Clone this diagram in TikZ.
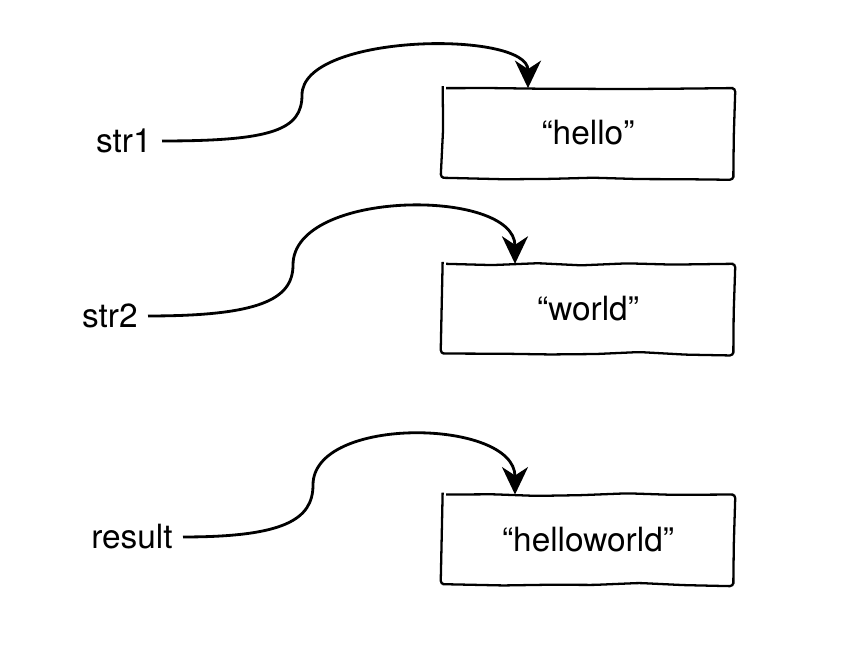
\documentclass[tikz,border=0pt]{standalone}
\usepackage{fontspec}
\setmainfont{TeX Gyre Heros}
\usetikzlibrary{
  arrows.meta,
  positioning,
  decorations.pathmorphing
}
\pgfmathsetseed{11}

\begin{document}
\begin{tikzpicture}[
  valbox/.style={minimum width=5.8cm,minimum height=1.78cm,
                 inner sep=0pt,font=\fontsize{19}{22}\selectfont},
  sketch/.style={line width=1.3pt,decorate,rounded corners=2pt,
                 decoration={random steps,segment length=0.9cm,amplitude=1pt}},
  var/.style={anchor=east,inner xsep=0.2cm,inner ysep=0pt,font=\fontsize{19}{22}\selectfont},
  ref/.style={-{Stealth[length=0.55cm,width=0.52cm,inset=0.17cm]},line width=1.6pt},
]
\useasboundingbox (0,0) rectangle (17.28,13);

\node[valbox] at (11.76,10.34)          (hello) {“hello”};
\node[valbox, below=1.72cm of hello]    (world) {“world”};
\node[valbox, below=2.82cm of world]    (hw)    {“helloworld”};

\foreach \b in {hello,world,hw}
  \draw[sketch] (\b.north west) -- (\b.north east) -- (\b.south east)
    -- (\b.south west) -- cycle;

\node[var] at (3.24,10.18) (str1)   {str1};
\node[var] at (2.96,6.68)  (str2)   {str2};
\node[var] at (3.66,2.26)  (result) {result};

% references
\draw[ref] (str1.east) .. controls +(2.2,0) and +(0,-0.7) .. (6.04,11.1)
  .. controls +(0,1.24) and +(0,1.16) .. ([xshift=-1.2cm]hello.north);
\draw[ref] (str2.east) .. controls +(2.2,0) and +(0,-0.7) .. (5.86,7.7)
  .. controls +(0,1.52) and +(0,1.52) .. ([xshift=-1.46cm]world.north);
\draw[ref] (result.east) .. controls +(2,0) and +(0,-0.7) .. (6.26,3.3)
  .. controls +(0,1.4) and +(0,1.52) .. ([xshift=-1.46cm]hw.north);
\end{tikzpicture}
\end{document}
